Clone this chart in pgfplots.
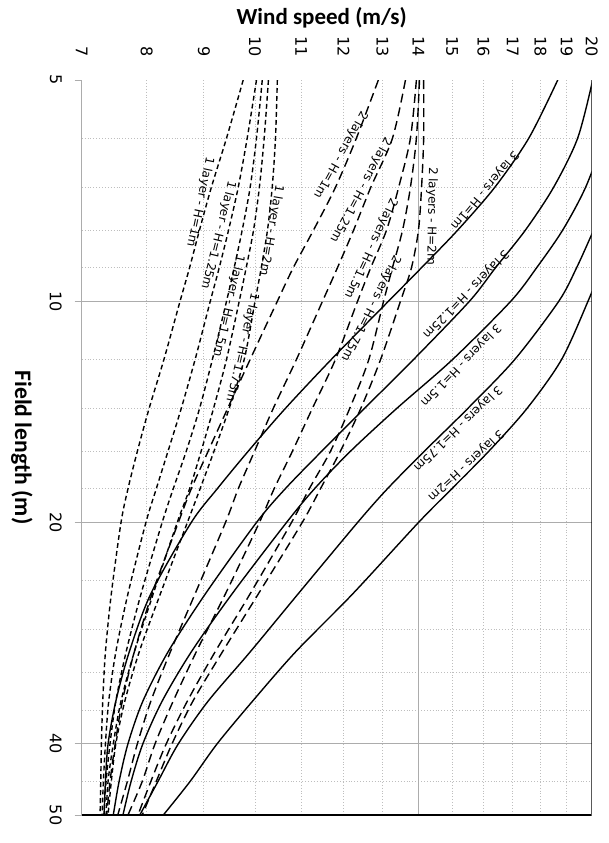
\documentclass[border=0pt]{standalone}
\usepackage{fontspec}
\setmainfont{DejaVu Sans}
\newfontfamily\titlefont{Carlito}
\usepackage{pgfplots}
\pgfplotsset{compat=1.18}
\usetikzlibrary{calc}

\definecolor{majgrid}{RGB}{172,172,172}
\definecolor{mingrid}{RGB}{190,190,190}

\tikzset{
  onelayer/.style={black, line width=0.7pt, dash pattern=on 2.4pt off 1.6pt},
  twolayer/.style={black, line width=0.7pt, dash pattern=on 4.5pt off 2.5pt},
  threelayer/.style={black, line width=0.7pt},
  clabel/.style={font=\fontsize{6}{7}\selectfont, inner sep=0.5pt},
}

\begin{document}
\begin{tikzpicture}
\begin{axis}[
  scale only axis, width=255pt, height=367.5pt,
  xmode=log, ymode=log, y dir=reverse,
  xmin=7, xmax=20, ymin=5, ymax=50,
  axis line style={draw=none},
  xtick={7,8,9,10,11,12,13,14,15,16,17,18,19,20},
  xticklabels={7,8,9,10,11,12,13,14,15,16,17,18,19,20},
  xticklabel pos=top,
  xtick style={draw=none},
  ytick={10,20,40}, yticklabels={10,20,40},
  extra y ticks={5,50}, extra y tick labels={5,50},
  extra y tick style={grid=none},
  extra x ticks={7,14}, extra x tick labels={},
  extra x tick style={grid=major, major tick length=0pt},
  ytick pos=left, tick align=outside,
  major tick length=3.5pt, minor tick length=0pt,
  ytick style={majgrid, line width=0.5pt},
  ymajorgrids, xminorgrids, yminorgrids,
  minor xtick={8,9,10,11,12,13,15,16,17,18,19},
  minor ytick={6,7,8,9,12,14,16,18,24,28,32,36,45},
  major grid style={majgrid, line width=0.5pt},
  minor grid style={mingrid, line width=0.45pt, densely dotted},
  xticklabel style={font=\fontsize{8}{9}\selectfont, inner sep=0pt, anchor=east, yshift=8pt, rotate=-90},
  yticklabel style={font=\fontsize{8}{9}\selectfont, inner sep=0pt, anchor=center, xshift=-9.5pt, rotate=-90},
]
% 1 layer
\addplot[onelayer, smooth] coordinates {(9.76,5) (9.43,6) (9.14,7) (8.92,8) (8.74,9) (8.57,10) (8.29,12) (8.04,14) (7.85,16) (7.70,18) (7.59,20) (7.44,25) (7.35,30) (7.31,35) (7.29,40) (7.28,45) (7.27,50)};
\addplot[onelayer, smooth] coordinates {(10.03,5) (9.84,6) (9.66,7) (9.47,8) (9.29,9) (9.12,10) (8.84,12) (8.59,14) (8.36,16) (8.16,18) (7.99,20) (7.70,25) (7.51,30) (7.40,35) (7.35,40) (7.32,45) (7.30,50)};
\addplot[onelayer, smooth] coordinates {(10.15,5) (10.03,6) (9.90,7) (9.74,8) (9.58,9) (9.43,10) (9.16,12) (8.92,14) (8.68,16) (8.45,18) (8.26,20) (7.91,25) (7.67,30) (7.51,35) (7.42,40) (7.36,45) (7.33,50)};
\addplot[onelayer, smooth] coordinates {(10.28,5) (10.19,6) (10.09,7) (9.97,8) (9.82,9) (9.68,10) (9.43,12) (9.18,14) (8.95,16) (8.74,18) (8.52,20) (8.11,25) (7.80,30) (7.59,35) (7.47,40) (7.39,45) (7.36,50)};
\addplot[onelayer, smooth] coordinates {(10.47,5) (10.43,6) (10.36,7) (10.26,8) (10.13,9) (10.0,10) (9.78,12) (9.48,14) (9.19,16) (8.93,18) (8.70,20) (8.23,25) (7.88,30) (7.65,35) (7.51,40) (7.44,45) (7.39,50)};
% 2 layers
\addplot[twolayer, smooth] coordinates {(12.89,5) (12.32,6) (11.80,7) (11.28,8) (10.82,9) (10.47,10) (9.90,12) (9.45,14) (9.08,16) (8.77,18) (8.54,20) (8.09,25) (7.80,30) (7.61,35) (7.50,40) (7.42,45) (7.37,50)};
\addplot[twolayer, smooth] coordinates {(13.63,5) (13.27,6) (12.69,7) (12.25,8) (11.85,9) (11.49,10) (10.89,12) (10.38,14) (9.99,16) (9.66,18) (9.41,20) (8.84,25) (8.40,30) (8.07,35) (7.85,40) (7.69,45) (7.54,50)};
\addplot[twolayer, smooth] coordinates {(13.94,5) (13.77,6) (13.44,7) (13.11,8) (12.69,9) (12.35,10) (11.80,12) (11.25,14) (10.80,16) (10.40,18) (10.09,20) (9.41,25) (8.86,30) (8.45,35) (8.14,40) (7.93,45) (7.70,50)};
\addplot[twolayer, smooth] coordinates {(14.03,5) (13.94,6) (13.77,7) (13.55,8) (13.27,9) (13.03,10) (12.64,12) (12.15,14) (11.68,16) (11.18,18) (10.78,20) (9.90,25) (9.21,30) (8.70,35) (8.33,40) (8.07,45) (7.86,50)};
\addplot[twolayer, smooth] coordinates {(14.15,5) (14.15,6) (14.09,7) (14.0,8) (13.80,9) (13.49,10) (12.95,12) (12.43,14) (11.92,16) (11.44,18) (11.02,20) (10.07,25) (9.35,30) (8.80,35) (8.43,40) (8.16,45) (7.93,50)};
% 3 layers
\addplot[threelayer, smooth] coordinates {(18.65,5) (17.57,6) (16.38,7) (15.18,8) (14.09,9) (13.16,10) (11.70,12) (10.64,14) (9.86,16) (9.25,18) (8.77,20) (8.07,25) (7.72,30) (7.51,35) (7.39,40) (7.35,45) (7.33,50)};
\addplot[threelayer, smooth] coordinates {(20.04,5) (19.43,6) (18.49,7) (17.45,8) (16.41,9) (15.55,10) (13.86,12) (12.52,14) (11.47,16) (10.64,18) (10.03,20) (9.03,25) (8.36,30) (7.94,35) (7.70,40) (7.56,45) (7.47,50)};
\addplot[threelayer, smooth] coordinates {(21.23,5) (20.5,6) (19.75,7) (18.84,8) (17.86,9) (16.93,10) (15.02,12) (13.38,14) (12.17,16) (11.30,18) (10.67,20) (9.54,25) (8.77,30) (8.26,35) (7.94,40) (7.75,45) (7.62,50)};
\addplot[threelayer, smooth] coordinates {(22.59,5) (21.67,6) (20.89,7) (20.08,8) (19.39,9) (18.69,10) (17.07,12) (15.49,14) (14.17,16) (13.13,18) (12.35,20) (10.93,25) (9.90,30) (9.08,35) (8.54,40) (8.19,45) (7.89,50)};
\addplot[threelayer, smooth] coordinates {(22.96,5) (22.22,6) (21.59,7) (21.02,8) (20.4,9) (19.85,10) (18.80,12) (17.5,14) (16.18,16) (14.99,18) (14.0,20) (12.23,25) (10.87,30) (9.95,35) (9.25,40) (8.75,45) (8.28,50)};
% curve labels
\node[clabel, rotate=-102] at (axis cs:8.93,7.33) {1 layer - H=1m};
\node[clabel, rotate=-104] at (axis cs:9.27,8.13) {1 layer - H=1.25m};
\node[clabel, rotate=-103] at (axis cs:9.47,10.15) {1 layer - H=1.5m};
\node[clabel, rotate=-103] at (axis cs:9.74,11.57) {1 layer - H=1.75m};
\node[clabel, rotate=-100] at (axis cs:10.34,8.0) {1 layer - H=2m};
\node[clabel, rotate=-119] at (axis cs:11.92,6.32) {2 layers - H=1m};
\node[clabel, rotate=-118] at (axis cs:12.43,7.06) {2 layers - H=1.25m};
\node[clabel, rotate=-115] at (axis cs:12.69,8.47) {2 layers - H=1.5m};
\node[clabel, rotate=-117] at (axis cs:12.69,10.21) {2 layers - H=1.75m};
\node[clabel, rotate=-91] at (axis cs:14.38,7.66) {2 layers - H=2m};
\node[clabel, rotate=-130] at (axis cs:16.04,7.06) {3 layers - H=1m};
\node[clabel, rotate=-134] at (axis cs:15.43,9.78) {3 layers - H=1.25m};
\node[clabel, rotate=-134] at (axis cs:15.27,12.21) {3 layers - H=1.5m};
\node[clabel, rotate=-136] at (axis cs:15.18,14.88) {3 layers - H=1.75m};
\node[clabel, rotate=-137] at (axis cs:15.43,16.71) {3 layers - H=2m};
% frame (right and bottom only)
\draw[black, line width=0.8pt] (axis cs:20,5) -- (axis cs:20,50) -- (axis cs:7,50);
\coordinate (bl) at (axis cs:7,50);
\coordinate (tr) at (axis cs:20,5);
\end{axis}
\node[font=\titlefont\bfseries\fontsize{11.5}{13}\selectfont] at ($(bl|-tr)+(120pt,31pt)$) {Wind speed (m/s)};
\node[font=\titlefont\bfseries\fontsize{11.8}{13}\selectfont, rotate=-90] at ($(bl)+(-29.9pt,183.75pt)$) {Field length (m)};
\pgfresetboundingbox
\path ($(bl)+(-40.85pt,-14pt)$) rectangle ($(tr)+(8.5pt,40pt)$);
\end{tikzpicture}
\end{document}
